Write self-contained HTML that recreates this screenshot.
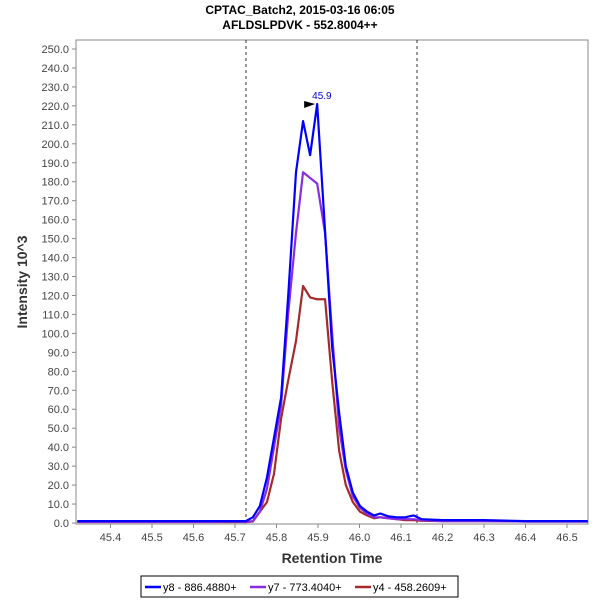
<!DOCTYPE html>
<html><head><meta charset="utf-8"><style>
body{margin:0;background:#fff;}
svg text{font-family:"Liberation Sans",sans-serif;}
</style></head><body>
<svg id="chart" width="600" height="600" viewBox="0 0 600 600" xmlns="http://www.w3.org/2000/svg">
<rect width="600" height="600" fill="#fff"/>
<text x="300" y="14" text-anchor="middle" font-size="12" font-weight="bold" fill="#000">CPTAC_Batch2, 2015-03-16 06:05</text>
<text x="300" y="29" text-anchor="middle" font-size="12" font-weight="bold" fill="#000">AFLDSLPDVK - 552.8004++</text>
<g id="yticks"></g><g id="xticks"></g>
<rect x="76" y="40" width="512" height="484" fill="none" stroke="#888" stroke-width="1"/>
<g id="series"></g>
<text transform="translate(27,282) rotate(-90)" text-anchor="middle" font-size="14" font-weight="bold" fill="#333">Intensity 10^3</text>
<text x="332" y="563" text-anchor="middle" font-size="14" font-weight="bold" fill="#333">Retention Time</text>
<g>
<rect x="141" y="576" width="317" height="21" fill="#fff" stroke="#000"/>
<line x1="145" y1="587" x2="161" y2="587" stroke="#0000ff" stroke-width="2.5"/>
<text x="163" y="591" font-size="11">y8 - 886.4880+</text>
<line x1="250" y1="587" x2="266" y2="587" stroke="#8a2be2" stroke-width="2.5"/>
<text x="268" y="591" font-size="11">y7 - 773.4040+</text>
<line x1="355" y1="587" x2="371" y2="587" stroke="#a52a2a" stroke-width="2.5"/>
<text x="373" y="591" font-size="11">y4 - 458.2609+</text>
</g>
</svg>
<script>
const yTicks=[0,10,20,30,40,50,60,70,80,90,100,110,120,130,140,150,160,170,180,190,200,210,220,230,240,250];
const xTicks=[45.4,45.5,45.6,45.7,45.8,45.9,46.0,46.1,46.2,46.3,46.4,46.5];
const rt=[45.32,45.65,45.70,45.726,45.743,45.760,45.777,45.794,45.811,45.828,45.847,45.864,45.881,45.898,45.917,45.934,45.951,45.967,45.984,46.001,46.018,46.035,46.05,46.07,46.09,46.11,46.13,46.15,46.2,46.3,46.4,46.5,46.55];
const y8=[1,1,1,1,3,9,24,45,66,119,185,212,194,221,154,93,58,30,16,9,6,4,5,3.5,3,3,4,2,1.5,1.5,1,1,1];
const y7=[0.6,0.6,0.8,0.5,1,6,18,40,62,110,153,185,182,179,153,100,50,28,14,8,5,3,3,2.5,2,2,2,1.5,1,1,0.8,0.8,0.8];
const y4=[0.5,0.5,0.5,0.5,0.8,6,11,26,55,75,96,125,119,118,118,75,38,20,11,6,4,2.5,3,2.5,2,1.5,1.5,1.2,1,1,0.8,0.8,0.8];
const boundaries=[45.7265,46.1386];
const apexRt=45.898, apexVal=221, apexLabel="45.9";
const X=v=>110.5+(v-45.4)*415;
const Y=v=>523-v*1.896;
const NS="http://www.w3.org/2000/svg";
function mk(tag,attrs,parent){const e=document.createElementNS(NS,tag);for(const k in attrs)e.setAttribute(k,attrs[k]);parent.appendChild(e);return e;}
const yg=document.getElementById('yticks');
yTicks.forEach(t=>{
 const l=mk('line',{x1:72,x2:76,y1:Y(t),y2:Y(t),stroke:'#888'},yg);
 
 
 const tx=mk('text',{x:69,y:Y(t)+4,'text-anchor':'end','font-size':11,fill:'#444'},yg);
 tx.textContent=t.toFixed(1);
 
 
});
const xg=document.getElementById('xticks');
xTicks.forEach(t=>{
 const l=mk('line',{x1:X(t),x2:X(t),y1:524,y2:528,stroke:'#888'},xg);
 
 
 const tx=mk('text',{x:X(t),y:541,'text-anchor':'middle','font-size':11,fill:'#444'},xg);
 tx.textContent=t.toFixed(1);
 
 
});
const sg=document.getElementById('series');
boundaries.forEach(b=>{
 const l=mk('line',{x1:X(b),x2:X(b),y1:40,y2:524,stroke:'#333','stroke-dasharray':'3,3'},sg);
 
 
});
[[y4,'#a52a2a','series-y4'],[y7,'#8a2be2','series-y7'],[y8,'#0000ff','series-y8']].forEach(([d,c,n])=>{
 const p=mk('polyline',{points:rt.map((t,i)=>X(t)+','+Y(d[i])).join(' '),fill:'none',stroke:c,'stroke-width':2.2,'stroke-linejoin':'round'},sg);
 
 
});
const ax=X(apexRt), ay=Y(apexVal);
const ar=mk('polygon',{points:`${ax-13},${ay-3} ${ax-2},${ay} ${ax-13},${ay+4}`,fill:'#000'},sg);


const at=mk('text',{x:ax-5,y:ay-5,'font-size':10,fill:'#0000cc'},sg);
at.textContent=apexLabel;


</script>
</body></html>
